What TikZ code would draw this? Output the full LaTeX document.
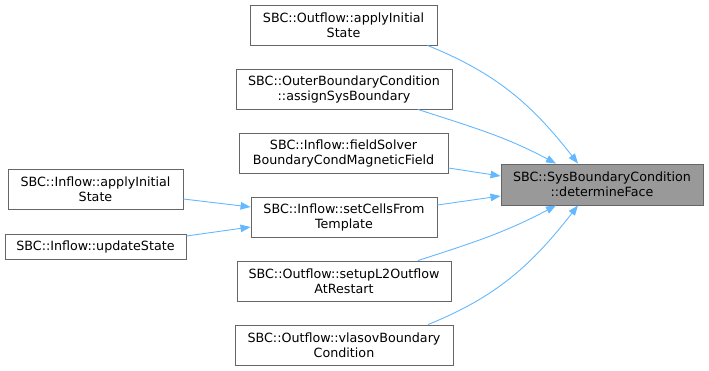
\documentclass[tikz,border=0pt]{standalone}
\usepackage{fontspec}
\setmainfont{DejaVu Sans}
\usetikzlibrary{arrows.meta}
\definecolor{edgeblue}{HTML}{63B8FF}
\definecolor{boxgray}{HTML}{666666}
\definecolor{hlfill}{HTML}{999999}
\begin{document}
\begin{tikzpicture}[x=1pt,y=-1pt,
  fn/.style={draw=boxgray,line width=0.9pt,fill=white,inner sep=0pt,align=center,
    font=\fontsize{12.7}{15}\selectfont,minimum height=40pt},
  hl/.style={fn,fill=hlfill},
  call/.style={draw=edgeblue,line width=0.9pt,-{Triangle[length=10pt,width=7.5pt]}}]
\useasboundingbox (0,0) rectangle (709,371);
\node[fn,minimum width=187pt] (oa) at (343.5,25) {SBC::Outflow::applyInitial\\State};
\node[fn,minimum width=216pt] (ob) at (344,89) {SBC::OuterBoundaryCondition\\::assignSysBoundary};
\node[fn,minimum width=209pt] (fs) at (343.5,153) {SBC::Inflow::fieldSolver\\BoundaryCondMagneticField};
\node[fn,minimum width=186pt] (sc) at (344,217) {SBC::Inflow::setCellsFrom\\Template};
\node[fn,minimum width=214pt] (l2) at (344,281) {SBC::Outflow::setupL2Outflow\\AtRestart};
\node[fn,minimum width=218pt] (vb) at (344,345) {SBC::Outflow::vlasovBoundary\\Condition};
\node[fn,minimum width=175pt] (ia) at (95.5,189) {SBC::Inflow::applyInitial\\State};
\node[fn,minimum width=181pt,minimum height=25pt] (us) at (95.5,246.5) {SBC::Inflow::updateState};
\node[hl,minimum width=202pt,minimum height=41pt] (df) at (602,184.5) {SBC::SysBoundaryCondition\\::determineFace};

\draw[call] ([xshift=84pt]oa.south) to[out=-22,in=128] ([xshift=-24pt]df.north);
\draw[call] ([xshift=74pt]ob.south) to[out=-18,in=152] ([xshift=-46pt]df.north);
\draw[call] ([yshift=-15pt]fs.east) -- ([yshift=8.5pt]df.west);
\draw[call] ([yshift=12pt]sc.east) -- ([yshift=-11.5pt]df.west);
\draw[call] ([xshift=74pt]l2.north) to[out=18,in=-152] ([xshift=-46pt]df.south);
\draw[call] ([xshift=84pt]vb.north) to[out=22,in=-128] ([xshift=-24pt]df.south);
\draw[call] ([yshift=-10pt]ia.east) -- ([yshift=10pt]sc.west);
\draw[call] ([yshift=10.5pt]us.east) -- ([yshift=-10pt]sc.west);
\end{tikzpicture}
\end{document}
